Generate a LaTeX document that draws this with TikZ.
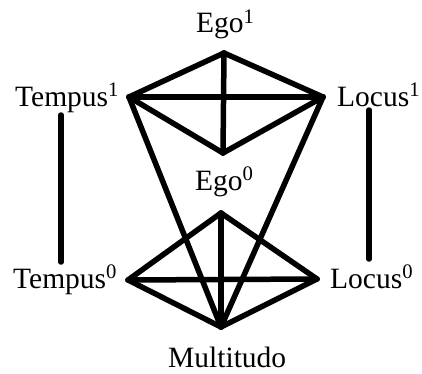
\documentclass[tikz,border=0pt]{standalone}
\usepackage{fontspec}
\setmainfont{Liberation Serif}
\begin{document}
\begin{tikzpicture}[x=1pt,y=1pt,
  lbl/.style={anchor=base west,inner sep=0pt,font=\fontsize{29.5}{30}\selectfont},
  edge/.style={line width=5.5pt,line cap=round,line join=round}]
\useasboundingbox (0,0) rectangle (422,373);
% labels
\node[lbl] (ego1) at (196,340) {Ego\textsuperscript{1}};
\node[lbl] (tempus1) at (15,267) {Tempus\textsuperscript{1}};
\node[lbl] (locus1) at (337,267) {Locus\textsuperscript{1}};
\node[lbl] (ego0) at (195,183) {Ego\textsuperscript{0}};
\node[lbl] (tempus0) at (13,85) {Tempus\textsuperscript{0}};
\node[lbl] (locus0) at (330,85) {Locus\textsuperscript{0}};
\node[lbl] (multi) at (168,6) {Multitudo};
% vertices
\coordinate (A) at (224,320);
\coordinate (B) at (129,276);
\coordinate (C) at (323,276);
\coordinate (D) at (223,220);
\coordinate (E) at (221,160);
\coordinate (F) at (128,93);
\coordinate (G) at (317,94);
\coordinate (H) at (221,46);
\coordinate (tl1) at (61,258);
\coordinate (tl0) at (61,111);
\coordinate (ll1) at (369,263);
\coordinate (ll0) at (369,114);
% edges
\draw[edge] (A) -- (B);
\draw[edge] (A) -- (C);
\draw[edge] (B) -- (C);
\draw[edge] (A) -- (D);
\draw[edge] (B) -- (D);
\draw[edge] (C) -- (D);
\draw[edge] (B) -- (H);
\draw[edge] (C) -- (H);
\draw[edge] (E) -- (F);
\draw[edge] (E) -- (G);
\draw[edge] (F) -- (G);
\draw[edge] (E) -- (H);
\draw[edge] (F) -- (H);
\draw[edge] (G) -- (H);
\draw[edge] (tl1) -- (tl0);
\draw[edge] (ll1) -- (ll0);
\end{tikzpicture}
\end{document}
